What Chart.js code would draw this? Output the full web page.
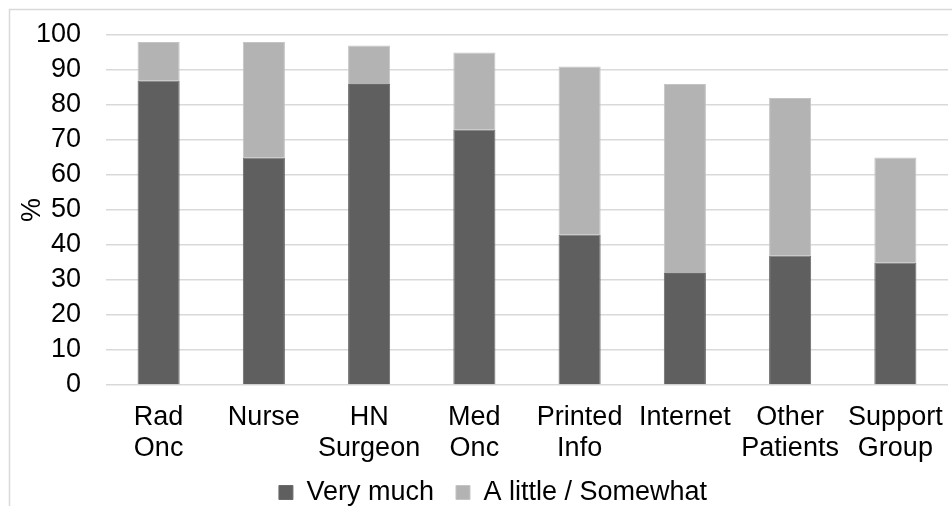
<!DOCTYPE html>
<html>
<head>
<meta charset="utf-8">
<script src="https://cdn.jsdelivr.net/npm/chart.js@4/dist/chart.umd.min.js"></script>
<style>
  html, body { margin: 0; padding: 0; background: #fff; }
  #wrap { width: 952px; height: 506px; }
</style>
</head>
<body>
<div id="wrap"><canvas id="c" width="952" height="506"></canvas></div>
<script>
// Information sources, each label split across lines
const categories = [
  ['Rad', 'Onc'], 'Nurse', ['HN', 'Surgeon'], ['Med', 'Onc'],
  ['Printed', 'Info'], 'Internet', ['Other', 'Patients'], ['Support', 'Group']
];
// Share of respondents (%)
const veryMuch = [87, 65, 86, 73, 43, 32, 37, 35];
const aLittleSomewhat = [11, 33, 11, 22, 48, 54, 45, 30];
const yTicks = [0, 10, 20, 30, 40, 50, 60, 70, 80, 90, 100];

const FONT = 'Liberation Sans, Arial, sans-serif';
const FS = 27;

// light frame around the whole chart area
const framePlugin = {
  id: 'frame',
  beforeDraw(chart) {
    const ctx = chart.ctx;
    ctx.save();
    ctx.fillStyle = '#fff';
    ctx.fillRect(0, 0, chart.width, chart.height);
    ctx.strokeStyle = '#d9d9d9';
    ctx.lineWidth = 1.5;
    ctx.strokeRect(9.5, 9.5, chart.width + 10, chart.height + 10);
    ctx.restore();
  }
};

// let the two-line category labels run into the space beside the legend,
// and nudge the legend down and to the right
const bottomPlugin = {
  id: 'bottomArea',
  afterLayout(chart) {
    const x = chart.scales.x;
    x.bottom = chart.height;
    const lg = chart.legend;
    if (lg) {
      lg.top += 10; lg.bottom += 10;
      lg.left += 14; lg.right += 14;
    }
  }
};

new Chart(document.getElementById('c'), {
  type: 'bar',
  data: {
    labels: categories,
    datasets: [
      {
        label: 'Very much',
        data: veryMuch,
        backgroundColor: '#5f5f5f',
        borderColor: '#6a6a6a',
        borderWidth: 1,
        barPercentage: 0.4,
        categoryPercentage: 1.0
      },
      {
        label: 'A little / Somewhat',
        data: aLittleSomewhat,
        backgroundColor: '#b3b3b3',
        borderColor: '#c4c4c4',
        borderWidth: 1,
        barPercentage: 0.4,
        categoryPercentage: 1.0
      }
    ]
  },
  options: {
    responsive: false,
    animation: false,
    devicePixelRatio: 1,
    layout: { padding: { left: 10, right: 4, top: 35, bottom: 0 } },
    plugins: {
      tooltip: { enabled: false },
      legend: {
        position: 'bottom',
        labels: {
          font: { family: FONT, size: FS },
          color: '#000',
          boxWidth: 14,
          boxHeight: 14,
          padding: 22
        }
      }
    },
    scales: {
      x: {
        stacked: true,
        grid: { display: false, drawTicks: false },
        border: { display: false },
        ticks: {
          font: { family: FONT, size: FS, lineHeight: 1.15 },
          color: '#000',
          padding: 17,
          maxRotation: 0,
          autoSkip: false
        },
        afterFit(scale) {
          scale.height = 62;
          scale.paddingLeft = 0;
          scale.paddingRight = 0;
        }
      },
      y: {
        stacked: true,
        min: 0,
        max: 100,
        afterBuildTicks(scale) { scale.ticks = yTicks.map(v => ({ value: v })); },
        grid: { color: '#d9d9d9', lineWidth: 1.5, drawTicks: false },
        border: { display: false },
        ticks: {
          font: { family: FONT, size: FS },
          color: '#000',
          padding: 25,
          autoSkip: false
        },
        title: {
          display: true,
          text: '%',
          font: { family: FONT, size: FS },
          color: '#000',
          padding: { top: 6, bottom: 0 }
        },
        afterFit(scale) {
          scale.width = 96;
          scale.paddingTop = 0;
          scale.paddingBottom = 0;
        }
      }
    }
  },
  plugins: [framePlugin, bottomPlugin]
});
</script>
</body>
</html>
